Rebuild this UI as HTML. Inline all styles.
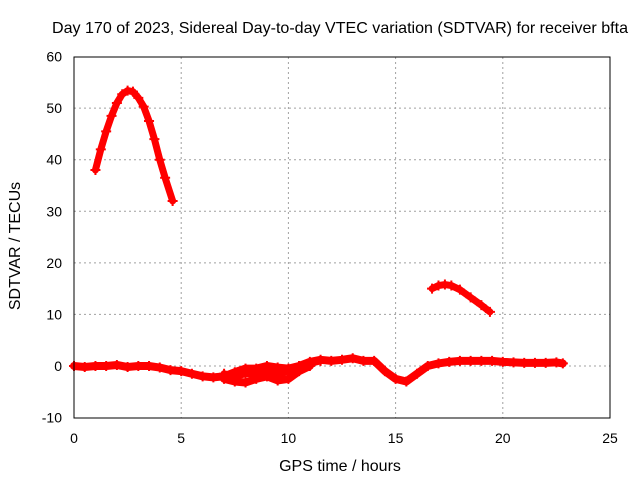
<!DOCTYPE html>
<html><head><meta charset="utf-8"><style>
body{margin:0;background:#fff;}
svg text{font-family:"Liberation Sans",sans-serif;font-size:14px;fill:#000;}
svg text.t{font-size:16px;}
</style></head><body>
<svg id="chart" width="640" height="480">
<text class="t" x="52" y="33" textLength="576" lengthAdjust="spacingAndGlyphs">Day 170 of 2023, Sidereal Day-to-day VTEC variation (SDTVAR) for receiver bfta</text>
<text class="t" x="340" y="471" text-anchor="middle">GPS time / hours</text>
<text class="t" transform="translate(20,246) rotate(-90)" text-anchor="middle">SDTVAR / TECUs</text>
<g id="grid"></g><g id="series"></g>
<rect x="74" y="57" width="536" height="361" fill="none" stroke="#000"/>
</svg>
<script>
const xTicks=[0,5,10,15,20,25];
const yTicks=[-10,0,10,20,30,40,50,60];
const arc1H=[1.0,1.25,1.5,1.75,2.0,2.25,2.5,2.75,3.0,3.25,3.5,3.75,4.0,4.25,4.6];
const arc1V=[38,42,45.5,48.5,51,52.7,53.4,53.2,52,50.3,47.5,44,40,36.5,32];
const arc2H=[16.7,17.0,17.3,17.6,18.0,18.5,19.0,19.4];
const arc2V=[15,15.6,15.8,15.6,14.8,13.3,11.8,10.5];
const bandH=[0,0.5,1,1.5,2,2.5,3,3.5,4,4.5,5,5.5,6,6.5,7,7.5,8,8.5,9,9.5,10,10.5,11,11.5,12,12.5,13,13.5,14,14.5,15,15.5,16,16.5,17,17.5,18,18.5,19,19.5,20,20.5,21,21.5,22,22.5,22.8];
const bandV=[0,-0.2,0,0,0.2,-0.2,0,0,-0.3,-0.8,-1,-1.5,-2,-2.2,-2,-1.2,-0.5,-0.5,0,-0.3,-0.5,0,0.8,1.2,1,1.2,1.5,1,1,-1,-2.5,-3,-1.5,0,0.5,0.8,1,1,1,1,0.8,0.7,0.6,0.6,0.6,0.7,0.5];
const band2H=[7.0,7.5,8.0,8.5,9.0,9.5,10.0,10.5,11.0];
const band2V=[-2.5,-3,-3.2,-2.5,-2,-2.8,-2.5,-1,0];
const band3H=[7.0,7.5,8.0,8.5,9.0,9.5,10.0,10.5,11.0,11.5];
const band3V=[-1.5,-2,-1.5,-1.5,-1,-1.5,-1,0,0.5,1];
const X=h=>74+h*536/25, Y=v=>366-v*5.157;
const NS="http://www.w3.org/2000/svg";
const g=document.getElementById('grid'), s=document.getElementById('series');
function el(t,a,p){const e=document.createElementNS(NS,t);for(const k in a)e.setAttribute(k,a[k]);p.appendChild(e);return e;}
xTicks.forEach(t=>{
  if(t>0&&t<25){const l=el('line',{x1:X(t),x2:X(t),y1:57,y2:418,stroke:'#a0a0a0','stroke-dasharray':'2,3'},g);
  
  }
  const tx=el('text',{x:X(t),y:443,'text-anchor':'middle'},g);tx.textContent=t;
  
  
});
yTicks.forEach(t=>{
  if(t>-10&&t<60){const l=el('line',{x1:74,x2:610,y1:Y(t),y2:Y(t),stroke:'#a0a0a0','stroke-dasharray':'2,3'},g);
  
  }
  const tx=el('text',{x:62,y:Y(t)+5,'text-anchor':'end'},g);tx.textContent=t;
  
  
});
function draw(H,V,name,w){
  const p=el('polyline',{points:H.map((h,i)=>X(h)+','+Y(V[i])).join(' '),fill:'none',stroke:'#f00','stroke-width':w,'stroke-linejoin':'round','stroke-linecap':'round'},s);
  
  
  H.forEach((h,i)=>{const m=el('path',{d:`M${X(h)-5},${Y(V[i])}h10M${X(h)},${Y(V[i])-5}v10`,stroke:'#f00','stroke-width':2},s);
    
    });
}
draw(arc1H,arc1V,'series-arc-1',7);
draw(arc2H,arc2V,'series-arc-2',7);
draw(bandH,bandV,'series-band',8);
draw(band2H,band2V,'series-band-lower',8);
draw(band3H,band3V,'series-band-middle',7);
</script>
</body></html>
